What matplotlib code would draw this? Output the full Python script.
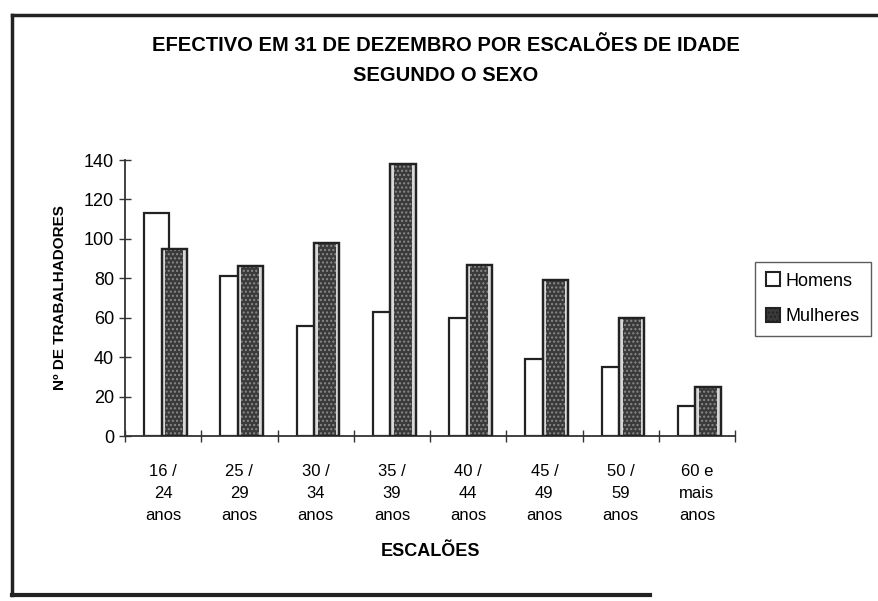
import matplotlib.pyplot as plt
import numpy as np
from matplotlib.patches import Rectangle

plt.rcParams['font.family'] = ['Liberation Sans', 'DejaVu Sans']

# Efectivo por escalão etário e sexo
escaloes = ['16 /\n24\nanos', '25 /\n29\nanos', '30 /\n34\nanos', '35 /\n39\nanos',
            '40 /\n44\nanos', '45 /\n49\nanos', '50 /\n59\nanos', '60 e\nmais\nanos']
homens = [113, 81, 56, 63, 60, 39, 35, 15]
mulheres = [95, 86, 98, 138, 87, 79, 60, 25]
yticks = [0, 20, 40, 60, 80, 100, 120, 140]

fig = plt.figure(figsize=(8.79, 6.01), dpi=100)
ax = fig.add_axes([0.1422, 0.2745, 0.694, 0.4592])

x = np.arange(len(escaloes)) + 0.5
w = 0.33

ax.bar(x - 0.085, homens, width=w, color='white', edgecolor='#222222',
       linewidth=1.6, zorder=2)
# Mulheres: fundo escuro granulado com orla clara
xm = x + 0.145
ax.bar(xm, mulheres, width=w, color='#d8d8d8', edgecolor='#222222',
       linewidth=1.6, zorder=3)
ax.bar(xm, mulheres, width=w * 0.72, color='#3a3a3a', edgecolor='#8a8a8a',
       hatch='....', linewidth=0, zorder=4)
ax.bar(xm, mulheres, width=w, color='none', edgecolor='#222222',
       linewidth=1.6, zorder=5)

ax.set_xlim(0, len(escaloes))
ax.set_ylim(0, 140)
ax.set_yticks(yticks)
ax.set_yticklabels([str(v) for v in yticks], fontsize=13)
ax.set_xticks(np.arange(len(escaloes) + 1))
ax.set_xticklabels([])
ax.set_xticks(x, minor=True)
ax.set_xticklabels(escaloes, minor=True, fontsize=12, linespacing=1.6)
ax.tick_params(axis='x', which='minor', length=0, pad=20)
ax.tick_params(axis='both', which='major', direction='inout', length=8, width=1,
               color='#333333')
ax.tick_params(axis='y', pad=4)

for s in ['top', 'right']:
    ax.spines[s].set_visible(False)
for s in ['left', 'bottom']:
    ax.spines[s].set_color('#333333')
    ax.spines[s].set_linewidth(1.3)

ax.set_ylabel('Nº DE TRABALHADORES', fontsize=11, fontweight='bold', labelpad=12)
ax.set_xlabel('ESCALÕES', fontsize=13, fontweight='bold', labelpad=14)

fig.text(0.507, 0.925, 'EFECTIVO EM 31 DE DEZEMBRO POR ESCALÕES DE IDADE',
         ha='center', va='center', fontsize=14.5, fontweight='bold')
fig.text(0.507, 0.875, 'SEGUNDO O SEXO', ha='center', va='center',
         fontsize=14.5, fontweight='bold')

# Legenda
h1 = Rectangle((0, 0), 1, 1, facecolor='white', edgecolor='#222222', linewidth=1.5)
h2 = Rectangle((0, 0), 1, 1, facecolor='#3a3a3a', edgecolor='#222222', linewidth=1.5,
               hatch='....')
leg = fig.legend([h1, h2], ['Homens', 'Mulheres'], loc='center left',
                 bbox_to_anchor=(0.859, 0.503), fontsize=13, frameon=True,
                 fancybox=False, edgecolor='#333333', handlelength=0.8,
                 handleheight=0.8, handletextpad=0.3, borderpad=0.6,
                 labelspacing=1.0, borderaxespad=0)
leg.get_frame().set_linewidth(1.0)

# Moldura exterior
fig.add_artist(plt.Line2D([0.0137, 1.0], [0.975, 0.975], color='#222222', linewidth=2.5))
fig.add_artist(plt.Line2D([0.0137, 0.0137], [0.975, 0.01], color='#222222', linewidth=2.5))
fig.add_artist(plt.Line2D([0.0137, 0.74], [0.01, 0.01], color='#222222', linewidth=3))

fig.savefig('out.png', dpi=100)
